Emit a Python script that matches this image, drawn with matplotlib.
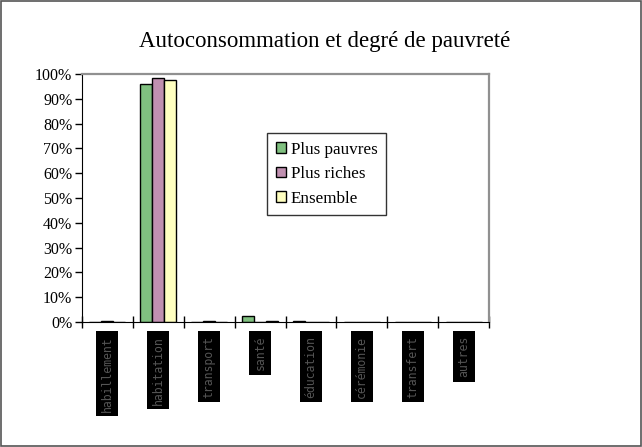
import numpy as np
import matplotlib.pyplot as plt
from matplotlib.patches import Rectangle
from matplotlib.ticker import PercentFormatter

categories = ["habillement", "habitation", "transport", "santé",
              "éducation", "cérémonie", "transfert", "autres"]
plus_pauvres = [0, 95.8, 0, 2.4, 0.5, 0, 0, 0]
plus_riches = [0.5, 98.3, 0.5, 0, 0, 0, 0, 0]
ensemble = [0, 97.5, 0, 0.6, 0, 0, 0, 0]
series_names = ["Plus pauvres", "Plus riches", "Ensemble"]
colors = ["#80c080", "#c090b0", "#ffffc0"]

serif = "Liberation Serif"

fig = plt.figure(figsize=(6.42, 4.47), dpi=100)
ax = fig.add_axes([82 / 642, 1 - 322 / 447, 407 / 642, 248 / 447])

x = np.arange(len(categories))
w = 0.236
for i, (vals, name, c) in enumerate(zip([plus_pauvres, plus_riches, ensemble], series_names, colors)):
    ax.bar(x + (i - 1) * w, vals, width=w, color=c, edgecolor="black",
           linewidth=1.0, label=name)

ax.set_xlim(-0.5, len(categories) - 0.5)
ax.set_ylim(0, 100)
ax.set_yticks(np.arange(0, 101, 10))
ax.yaxis.set_major_formatter(PercentFormatter(decimals=0))
ax.tick_params(axis="y", labelsize=11.5, labelfontfamily=serif)

# category boundaries as major ticks, names on minor ticks
ax.set_xticks(np.arange(-0.5, len(categories), 1.0))
ax.set_xticklabels([])
ax.set_xticks(x, minor=True)
ax.set_xticklabels(categories, minor=True, rotation=90, va="top",
                   fontsize=8.3, color="#555555", family="DejaVu Sans Mono")
for lbl in ax.get_xticklabels(minor=True):
    lbl.set_bbox(dict(facecolor="black", edgecolor="none", pad=3.2))
ax.tick_params(axis="x", which="major", direction="inout", length=8, width=1)
ax.tick_params(axis="x", which="minor", length=0, pad=10)
ax.tick_params(axis="y", direction="out", length=5, width=1, pad=2)

ax.spines["left"].set_color("black")
ax.spines["bottom"].set_color("black")
ax.spines["top"].set_color("#909090")
ax.spines["right"].set_color("#909090")
ax.spines["top"].set_linewidth(1.6)
ax.spines["right"].set_linewidth(1.6)

fig.text(0.505, 1 - 42 / 447, "Autoconsommation et degré de pauvreté",
         ha="center", va="center", fontsize=16.5, family=serif)

leg = fig.legend(loc="upper left", bbox_to_anchor=(267 / 642, 1 - 133 / 447),
                 borderaxespad=0, frameon=True, fancybox=False,
                 prop={"family": serif, "size": 12.3},
                 handlelength=0.6, handleheight=0.6, handletextpad=0.3,
                 labelspacing=0.5, borderpad=0.5)
leg.get_frame().set_edgecolor("black")
leg.get_frame().set_linewidth(1.0)

fig.patches.append(Rectangle((0.002, 0.002), 0.996, 0.996, transform=fig.transFigure,
                             fill=False, edgecolor="#555555", linewidth=1.2))

fig.savefig("out.png", dpi=100)
